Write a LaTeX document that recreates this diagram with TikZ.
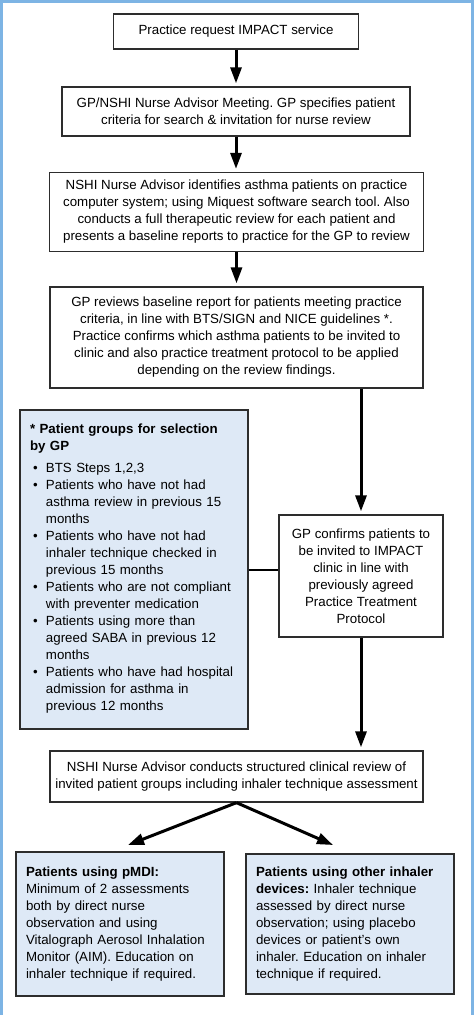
\documentclass[tikz,border=0pt]{standalone}
\usepackage{fontspec}
\setmainfont{Liberation Sans}
\usetikzlibrary{arrows.meta}
\definecolor{frameblue}{RGB}{125,180,228}
\definecolor{noteblue}{RGB}{222,233,246}
\definecolor{boxline}{RGB}{45,45,45}
\frenchspacing
\begin{document}
\begin{tikzpicture}[x=1pt,y=-1pt,
    every node/.style={font=\fontsize{13.3}{17}\selectfont},
    stage/.style={draw=boxline,line width=1.3pt,fill=white,align=center,inner sep=0pt},
    note/.style={draw=boxline,line width=1.3pt,fill=noteblue,align=left,inner xsep=10pt,inner ysep=0pt},
    flow/.style={line width=3pt,-{Triangle[length=16pt,width=11pt]},shorten >=3pt}]
      \useasboundingbox (0,0) rectangle (474,1015);
      \draw[frameblue,line width=2.5pt] (1.25,1015) -- (1.25,1.25) -- (472.5,1.25) -- (472.5,1015);
      \draw
        (236,31.5) node[stage,minimum width=245pt,minimum height=35pt] (request){Practice request IMPACT service}
        (236,111.5) node[stage,minimum width=348pt,minimum height=49pt] (meeting){GP/NSHI Nurse Advisor Meeting. GP specifies patient\\criteria for search \& invitation for nurse review}
        (236.5,212) node[stage,minimum width=374pt,minimum height=79pt] (search){NSHI Nurse Advisor identifies asthma patients on practice\\computer system; using Miquest software search tool. Also\\conducts a full therapeutic review for each patient and\\presents a baseline reports to practice for the GP to review}
        (236.5,337.5) node[stage,minimum width=373pt,minimum height=101pt] (baseline){GP reviews baseline report for patients meeting practice\\criteria, in line with BTS/SIGN and NICE guidelines *.\\Practice confirms which asthma patients to be invited to\\clinic and also practice treatment protocol to be applied\\depending on the review findings.}
        (134,569.5) node[note,text width=208pt,minimum height=319pt] (groups){\textbf{* Patient groups for selection}\\\textbf{by GP}\\[5pt]
          \begin{tabular}[t]{@{}p{16pt}@{}l@{}}
          \hspace*{3pt}\textbullet & BTS Steps 1,2,3\\
          \hspace*{3pt}\textbullet & Patients who have not had\\
           & asthma review in previous 15\\
           & months\\
          \hspace*{3pt}\textbullet & Patients who have not had\\
           & inhaler technique checked in\\
           & previous 15 months\\
          \hspace*{3pt}\textbullet & Patients who are not compliant\\
           & with preventer medication\\
          \hspace*{3pt}\textbullet & Patients using more than\\
           & agreed SABA in previous 12\\
           & months\\
          \hspace*{3pt}\textbullet & Patients who have had hospital\\
           & admission for asthma in\\
           & previous 12 months
          \end{tabular}}
        (361,576) node[stage,minimum width=164pt,minimum height=122pt] (confirm){GP confirms patients to\\be invited to IMPACT\\clinic in line with\\previously agreed\\Practice Treatment\\Protocol}
        (236.5,776.5) node[stage,minimum width=373pt,minimum height=51pt] (review){NSHI Nurse Advisor conducts structured clinical review of\\invited patient groups including inhaler technique assessment}
        (120,924) node[note,text width=188pt,minimum height=144pt] (pmdi){\textbf{Patients using pMDI:}\\Minimum of 2 assessments\\both by direct nurse\\observation and using\\Vitalograph Aerosol Inhalation\\Monitor (AIM). Education on\\inhaler technique if required.}
        (350,924) node[note,text width=188pt,minimum height=140pt] (other){\textbf{Patients using other inhaler}\\\textbf{devices:}~Inhaler technique\\assessed by direct nurse\\observation; using placebo\\devices or patient's own\\inhaler. Education on inhaler\\technique if required.};
      \coordinate (pmditip) at (128,845);
      \coordinate (othertip) at (333,845);
      \begin{scope}[flow]
        \draw (request.south) to (request.south |- meeting.north);
        \draw (meeting.south) to (meeting.south |- search.north);
        \draw (search.south) to (search.south |- baseline.north);
        \draw (baseline.south -| confirm.north) to (confirm.north);
        \draw (confirm.south) to (confirm.south |- review.north);
        \draw[shorten >=0pt] (review.south) to (pmditip);
        \draw[shorten >=0pt] (review.south) to (othertip);
      \end{scope}
      \draw[line width=2pt] (groups.east) -- (groups.east -| confirm.west);
    \end{tikzpicture}
\end{document}
